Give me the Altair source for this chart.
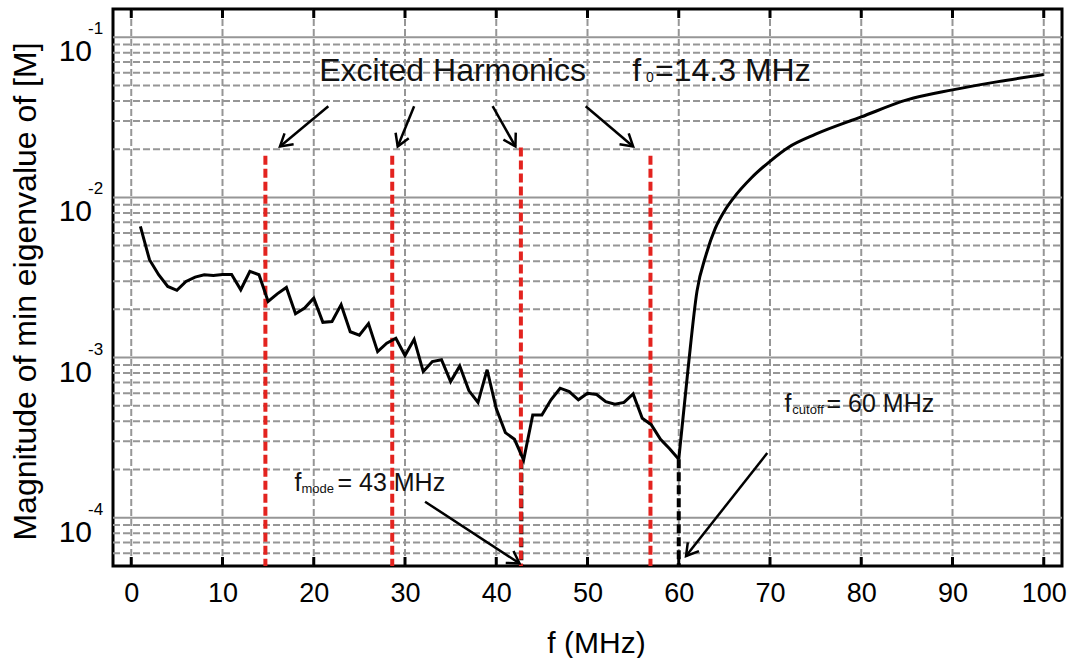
import math
import altair as alt
import pandas as pd

# ---------------- data ----------------
freq_a = list(range(1, 61))
eig_a = [0.00659, 0.00408, 0.00329, 0.00278, 0.00263, 0.00299, 0.00318, 0.00329, 0.00326, 0.0033,
         0.0033, 0.00265, 0.00345, 0.00329, 0.00224, 0.0025, 0.00274, 0.00188, 0.00204, 0.00235,
         0.00166, 0.00168, 0.00214, 0.00145, 0.00138, 0.00163, 0.00109, 0.00123, 0.00132, 0.00103,
         0.0013, 0.000818, 0.000944, 0.000969, 0.000708, 0.000887, 0.000622, 0.000525, 0.00084, 0.00048,
         0.00034, 0.000309, 0.000229, 0.000438, 0.000438, 0.000545, 0.000644, 0.000613, 0.000545, 0.000599,
         0.000588, 0.000531, 0.000512, 0.000525, 0.000593, 0.000418, 0.00038, 0.000309, 0.00027, 0.000232]

freq_b = [60, 61, 62, 63, 64, 65, 66, 68, 70, 72, 75, 80, 85, 90, 95, 100]
eig_b = [0.000232, 0.00083, 0.0026, 0.0044, 0.0064, 0.0082, 0.0099, 0.0133, 0.0168, 0.0205,
         0.0248, 0.0318, 0.0406, 0.0469, 0.0528, 0.0585]

harmonic_f = [14.7, 28.6, 42.7, 56.9]
harmonic_top = [0.0182, 0.0182, 0.0205, 0.0182]

marker_f = [42.75, 60]
marker_top = [0.000229, 0.000232]

x_ticks = [0, 10, 20, 30, 40, 50, 60, 70, 80, 90, 100]
y_decades = [1e-4, 1e-3, 1e-2, 1e-1]
y_exponents = ["-4", "-3", "-2", "-1"]
y_minor = [6e-5, 7e-5, 8e-5, 9e-5,
           2e-4, 3e-4, 4e-4, 5e-4, 6e-4, 7e-4, 8e-4, 9e-4,
           2e-3, 3e-3, 4e-3, 5e-3, 6e-3, 7e-3, 8e-3, 9e-3,
           2e-2, 3e-2, 4e-2, 5e-2, 6e-2, 7e-2, 8e-2, 9e-2]

# arrows: start (f, v) -> tip (f2, v2)
arrow_f = [21.6, 31.0, 39.6, 49.8, 32.2, 69.7]
arrow_v = [0.0371, 0.0371, 0.0371, 0.0371, 1.26e-4, 2.535e-4]
arrow_f2 = [16.3, 29.2, 42.1, 55.0, 42.55, 60.8]
arrow_v2 = [0.0208, 0.0208, 0.0208, 0.0208, 5.19e-5, 5.77e-5]

# annotation texts
ann_text = ["Excited Harmonics", "f", "0", "=14.3 MHz",
            "f", "mode", "= 43 MHz",
            "f", "cutoff", "= 60 MHz"]
ann_f = [20.6, 54.9, 56.4, 57.4, 17.9, 18.65, 22.6, 71.6, 72.45, 76.2]
ann_v = [0.0531, 0.0531, 0.0531, 0.0531, 1.475e-4, 1.475e-4, 1.475e-4, 4.6e-4, 4.6e-4, 4.6e-4]
ann_size = [32, 32, 14, 32, 25, 13, 25, 25, 13, 25]
ann_dy = [0, 0, 1, 0, 0, 2, 0, 0, 2, 0]

# ---------------- layout ----------------
W, H = 949, 557
XDOM = [-2, 102]
YDOM = [5e-5, 0.15]
FONT = "Liberation Sans"

xs = alt.Scale(domain=XDOM, nice=False, zero=False)
ys = alt.Scale(type="log", domain=YDOM, nice=False)

x_axis = alt.Axis(values=x_ticks, labelFontSize=27, labelPadding=14, ticks=False, domain=False,
                  grid=False, title="f (MHz)", titleFontSize=30, titleFontWeight="normal",
                  titleBaseline="alphabetic", titleY=86, titleX=483, titleAlign="center",
                  labelColor="black", titleColor="black", labelFont=FONT, titleFont=FONT)
y_axis = alt.Axis(values=y_decades, labels=False, ticks=False, domain=False, grid=False,
                  title="Magnitude of min eigenvalue of [M]", titleFontSize=32,
                  titleFontWeight="normal", titleAngle=270, titleAlign="center",
                  titleBaseline="middle", titleX=-88, titleY=282, titleColor="black", titleFont=FONT)


def X(field="f"):
    return alt.X(field, type="quantitative", scale=xs, axis=x_axis)


def Y(field="v"):
    return alt.Y(field, type="quantitative", scale=ys, axis=y_axis)


GRAY = "#969696"

minor_df = pd.DataFrame({"v": y_minor})
major_df = pd.DataFrame({"v": y_decades})
xgrid_df = pd.DataFrame({"f": x_ticks})

minor_grid = alt.Chart(minor_df).mark_rule(color=GRAY, strokeWidth=2, strokeDash=[7, 3]).encode(
    y=Y(), x=alt.value(0), x2=alt.value(W))
major_grid = alt.Chart(major_df).mark_rule(color=GRAY, strokeWidth=2).encode(
    y=Y(), x=alt.value(0), x2=alt.value(W))
x_grid = alt.Chart(xgrid_df).mark_rule(color=GRAY, strokeWidth=2, strokeDash=[7, 3]).encode(
    x=X(), y=alt.value(0), y2=alt.value(H))
top_ticks = alt.Chart(xgrid_df).mark_rule(color="black", strokeWidth=3).encode(
    x=X(), y=alt.value(0), y2=alt.value(9))
bottom_ticks = alt.Chart(xgrid_df).mark_rule(color="black", strokeWidth=3).encode(
    x=X(), y=alt.value(H - 9), y2=alt.value(H))

# y tick labels (10 with exponent)
ylab_df = pd.DataFrame({"v": y_decades, "e": y_exponents})
ylab_base = alt.Chart(ylab_df).mark_text(text="10", fontSize=30, font=FONT, align="right",
                                          baseline="alphabetic", dx=-21, dy=24, color="black").encode(
    y=Y(), x=alt.value(0))
ylab_exp = alt.Chart(ylab_df).mark_text(fontSize=17, font=FONT, align="left",
                                         baseline="alphabetic", dx=-25, dy=-3, color="black").encode(
    y=Y(), x=alt.value(0), text="e:N")

harm_df = pd.DataFrame({"f": harmonic_f, "v": harmonic_top, "v2": [YDOM[0]] * 4})
marker_df = pd.DataFrame({"f": marker_f, "v": marker_top, "v2": [YDOM[0]] * 2})

black_marks = alt.Chart(marker_df).mark_rule(color="black", strokeWidth=4, strokeDash=[9, 4]).encode(
    x=X(), y=Y(), y2="v2:Q")
red_lines = alt.Chart(harm_df).mark_rule(color="#e3231f", strokeWidth=4, strokeDash=[9, 4]).encode(
    x=X(), y=Y(), y2="v2:Q")

line_a = alt.Chart(pd.DataFrame({"f": freq_a, "v": eig_a})).mark_line(
    color="black", strokeWidth=3).encode(x=X(), y=Y())
line_b = alt.Chart(pd.DataFrame({"f": freq_b, "v": eig_b})).mark_line(
    color="black", strokeWidth=3, interpolate="monotone").encode(x=X(), y=Y())


# arrows
def px(f):
    return (f - XDOM[0]) / (XDOM[1] - XDOM[0]) * W


def py(v):
    lo, hi = math.log10(YDOM[0]), math.log10(YDOM[1])
    return (hi - math.log10(v)) / (hi - lo) * H


angles = []
for a, b, c, d in zip(arrow_f, arrow_v, arrow_f2, arrow_v2):
    ang = math.degrees(math.atan2(py(d) - py(b), px(c) - px(a))) % 360
    angles.append(ang)

arrow_df = pd.DataFrame({"f": arrow_f, "v": arrow_v, "f2": arrow_f2, "v2": arrow_v2, "ang": angles})
arrow_shafts = alt.Chart(arrow_df).mark_rule(color="black", strokeWidth=2.5).encode(
    x=X(), y=Y(), x2="f2:Q", y2="v2:Q")
arrow_heads = alt.Chart(arrow_df).mark_point(
    shape="M -1 -0.6 L 0 0 L -1 0.6", filled=False, color="black", strokeWidth=2.5,
    size=560, opacity=1).encode(
    x=X("f2"), y=Y("v2"), angle=alt.Angle("ang:Q", scale=None))

ann_df = pd.DataFrame({"t": ann_text, "f": ann_f, "v": ann_v, "s": ann_size, "dy": ann_dy})
ann_layers = []
for i in range(len(ann_text)):
    row = ann_df.iloc[[i]]
    ann_layers.append(
        alt.Chart(row).mark_text(align="left", baseline="alphabetic", font=FONT, color="#111111",
                                 fontSize=int(ann_size[i]), dy=int(ann_dy[i])).encode(
            x=X(), y=Y(), text="t:N"))

chart = alt.layer(
    minor_grid, major_grid, x_grid, top_ticks, bottom_ticks,
    black_marks, red_lines, line_a, line_b,
    arrow_shafts, arrow_heads, ylab_base, ylab_exp, *ann_layers
).properties(
    width=W, height=H,
    autosize=alt.AutoSizeParams(type="none"),
    padding={"left": 113, "top": 9, "right": 17, "bottom": 92},
    background="white",
).configure_view(stroke="black", strokeWidth=3).configure_text(font=FONT)

chart.save("out.html", embed_options={"renderer": "svg", "actions": False})
